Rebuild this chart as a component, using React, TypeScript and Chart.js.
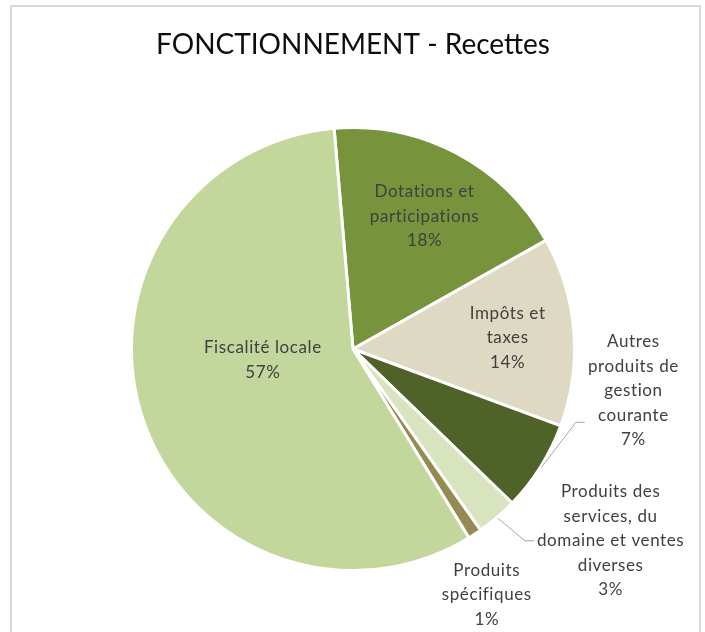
import React, { useEffect, useRef } from 'react';
import { Chart, registerables } from 'chart.js';

Chart.register(...registerables);

const TITLE = 'FONCTIONNEMENT - Recettes';
const categories: string[][] = [
  ['Dotations et', 'participations'],
  ['Impôts et', 'taxes'],
  ['Autres', 'produits de', 'gestion', 'courante'],
  ['Produits des', 'services, du', 'domaine et ventes', 'diverses'],
  ['Produits', 'spécifiques'],
  ['Fiscalité locale'],
];
const values = [18.2, 13.8, 6.6, 3.0, 1.0, 57.4];
const colors = ['#77933c', '#ddd9c3', '#4f6228', '#d7e4bd', '#948a54', '#c3d69b'];

// label placement (style): radius factor, angle offset from slice middle (deg), leader line
const placement = [
  { r: 0.68, da: 0.5, leader: null as null | { dy: number } },
  { r: 0.70, da: 0.4, leader: null },
  { r: 1.28, da: -23.7, leader: { dy: 31.5 } },
  { r: 1.45, da: -12.8, leader: { dy: 0 } },
  { r: 1.264, da: 4.8, leader: null },
  { r: 0.41, da: 11.2, leader: null },
];

const FONT = 'Lato, "Open Sans", sans-serif';
const LABEL_SIZE = 17;
const LINE_H = 24.5;

const labelPlugin = {
  id: 'customLabels',
  beforeDraw(chart: any) {
    const ctx = chart.ctx;
    ctx.save();
    ctx.fillStyle = '#ffffff';
    ctx.fillRect(0, 0, chart.width, chart.height);
    ctx.strokeStyle = '#d9d9d9';
    ctx.lineWidth = 2;
    ctx.strokeRect(11, 6, 689, 700);
    ctx.fillStyle = '#0d0d0d';
    ctx.font = `28px ${FONT}`;
    ctx.textAlign = 'center';
    ctx.textBaseline = 'middle';
    ctx.fillText(TITLE, 353, 45);
    ctx.restore();
  },
  afterDatasetsDraw(chart: any) {
    const ctx = chart.ctx;
    const meta = chart.getDatasetMeta(0);
    const total = values.reduce((a, b) => a + b, 0);
    ctx.save();
    ctx.font = `${LABEL_SIZE}px ${FONT}`;
    try { (ctx as any).letterSpacing = '0.6px'; } catch (e) {}
    ctx.textAlign = 'center';
    ctx.textBaseline = 'middle';
    meta.data.forEach((arc: any, i: number) => {
      const p = arc.getProps(['x', 'y', 'startAngle', 'endAngle', 'outerRadius'], true);
      const mid = (p.startAngle + p.endAngle) / 2;
      const pl = placement[i];
      const a = mid + (pl.da * Math.PI) / 180;
      const cx = p.x + Math.cos(a) * pl.r * p.outerRadius;
      const cy = p.y + Math.sin(a) * pl.r * p.outerRadius;
      const lines = [...categories[i], Math.round((values[i] / total) * 100) + '%'];
      const n = lines.length;
      let maxW = 0;
      lines.forEach((l) => (maxW = Math.max(maxW, ctx.measureText(l).width)));
      if (pl.leader) {
        const sx = p.x + Math.cos(mid) * (p.outerRadius + 1);
        const sy = p.y + Math.sin(mid) * (p.outerRadius + 1);
        const ex = cx - maxW / 2 - 3;
        const ey = cy + pl.leader.dy;
        ctx.strokeStyle = '#a6a6a6';
        ctx.lineWidth = 1;
        ctx.beginPath();
        ctx.moveTo(sx, sy);
        ctx.lineTo(ex - 9, ey);
        ctx.lineTo(ex, ey);
        ctx.stroke();
      }
      ctx.fillStyle = '#404040';
      lines.forEach((l, k) => {
        ctx.fillText(l, cx, cy + (k - (n - 1) / 2) * LINE_H);
      });
    });
    ctx.restore();
  },
};

export default function App() {
  const ref = useRef<HTMLCanvasElement>(null);
  useEffect(() => {
    if (!ref.current) return;
    const chart = new Chart(ref.current, {
      type: 'pie',
      data: {
        labels: categories.map((c) => c.join(' ')),
        datasets: [
          {
            data: values,
            backgroundColor: colors,
            borderColor: '#ffffff',
            borderWidth: 3,
          },
        ],
      },
      options: {
        responsive: false,
        animation: false,
        rotation: -4.9,
        layout: { padding: { top: 126, bottom: 60, left: 130, right: 129 } },
        plugins: {
          legend: { display: false },
          title: { display: false },
          tooltip: { enabled: false },
        },
      },
      plugins: [labelPlugin],
    });
    return () => chart.destroy();
  }, []);
  return (
    <div style={{ position: 'absolute', left: 0, top: 0, width: 705, height: 632, background: '#fff' }}>
      <canvas ref={ref} width={705} height={632} style={{ display: 'block' }} />
    </div>
  );
}
